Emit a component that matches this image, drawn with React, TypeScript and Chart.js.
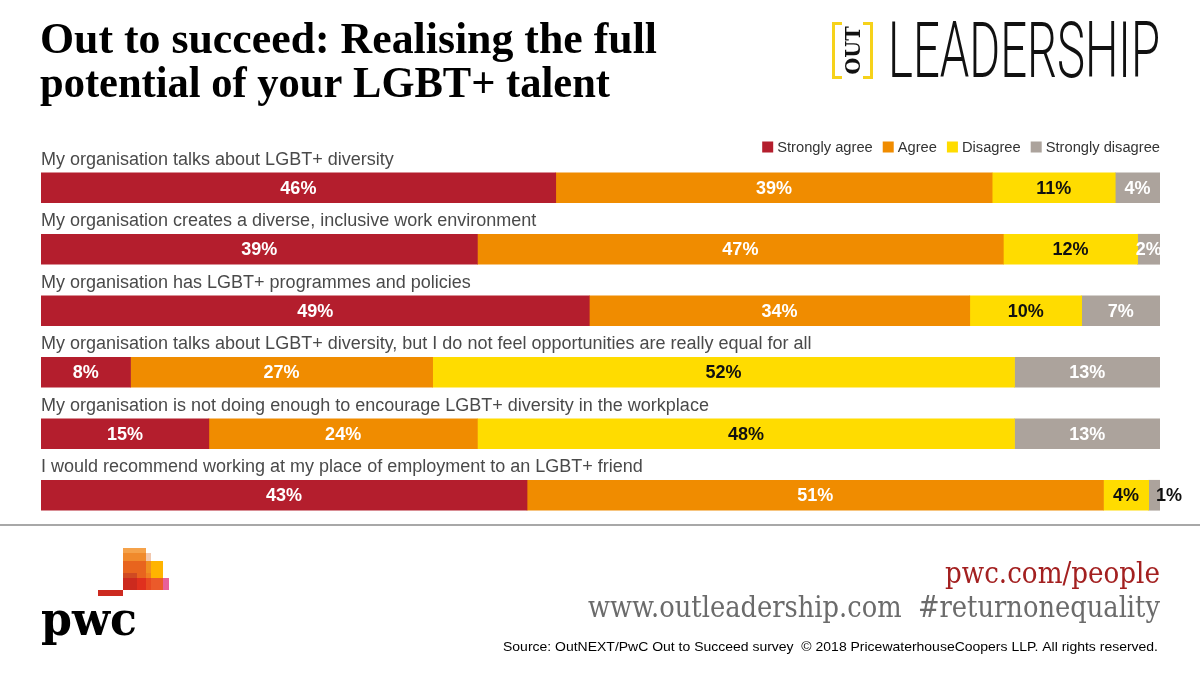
import React, { useEffect, useRef } from "react";
import { Chart, registerables } from "chart.js";

Chart.register(...registerables);

const categories = [
  "My organisation talks about LGBT+ diversity",
  "My organisation creates a diverse, inclusive work environment",
  "My organisation has LGBT+ programmes and policies",
  "My organisation talks about LGBT+ diversity, but I do not feel opportunities are really equal for all",
  "My organisation is not doing enough to encourage LGBT+ diversity in the workplace",
  "I would recommend working at my place of employment to an LGBT+ friend",
];
const seriesNames = ["Strongly agree", "Agree", "Disagree", "Strongly disagree"];
const stronglyAgree = [46, 39, 49, 8, 15, 43];
const agree = [39, 47, 34, 27, 24, 51];
const disagree = [11, 12, 10, 52, 48, 4];
const stronglyDisagree = [4, 2, 7, 13, 13, 1];
const seriesColors = ["#b41e2d", "#f08c00", "#ffdc00", "#aca39c"];
const valueLabelColors = ["#ffffff", "#ffffff", "#111111", "#ffffff"];

const titleLines = ["Out to succeed: Realising the full", "potential of your LGBT+ talent"];
const footerLink = "pwc.com/people";
const footerSites = "www.outleadership.com  #returnonequality";
const sourceText =
  "Source: OutNEXT/PwC Out to Succeed survey  \u00A9 2018 PricewaterhouseCoopers LLP. All rights reserved.";

const SANS = "'Liberation Sans', Arial, sans-serif";
const SERIF = "'DejaVu Serif', serif";
const TITLE_SERIF = "'Liberation Serif', serif";

function fitText(
  ctx: CanvasRenderingContext2D,
  text: string,
  x: number,
  y: number,
  width: number,
  font: string,
  color: string,
  align: "left" | "right" = "left"
) {
  ctx.save();
  ctx.font = font;
  ctx.fillStyle = color;
  ctx.textBaseline = "alphabetic";
  ctx.textAlign = "left";
  const w = ctx.measureText(text).width;
  const sx = width / w;
  const startX = align === "left" ? x : x - w * sx;
  ctx.translate(startX, y);
  ctx.scale(sx, 1);
  ctx.fillText(text, 0, 0);
  ctx.restore();
}

const decorPlugin = {
  id: "decor",
  beforeDraw(chart: any) {
    const ctx: CanvasRenderingContext2D = chart.ctx;
    ctx.save();
    ctx.fillStyle = "#ffffff";
    ctx.fillRect(0, 0, chart.width, chart.height);

    // Title
    fitText(ctx, titleLines[0], 40, 53, 617, `bold 44px ${TITLE_SERIF}`, "#000000");
    fitText(ctx, titleLines[1], 40, 97, 570, `bold 44px ${TITLE_SERIF}`, "#000000");

    // OUT LEADERSHIP logo
    ctx.strokeStyle = "#f6d21a";
    ctx.lineWidth = 3;
    ctx.beginPath();
    ctx.moveTo(842, 23.5);
    ctx.lineTo(833.5, 23.5);
    ctx.lineTo(833.5, 77.5);
    ctx.lineTo(842, 77.5);
    ctx.moveTo(863, 23.5);
    ctx.lineTo(871.5, 23.5);
    ctx.lineTo(871.5, 77.5);
    ctx.lineTo(863, 77.5);
    ctx.stroke();
    ctx.save();
    ctx.translate(860, 50.5);
    ctx.rotate(-Math.PI / 2);
    ctx.font = `bold 20px ${SERIF}`;
    const ow = ctx.measureText("OUT").width;
    ctx.scale(48 / ow, 1);
    ctx.fillStyle = "#111111";
    ctx.textAlign = "center";
    ctx.fillText("OUT", 0, 0);
    ctx.restore();
    fitText(ctx, "LEADERSHIP", 888, 77, 272, `300 77px Roboto, sans-serif`, "#111111");

    // Separator line
    ctx.fillStyle = "#a8a8a8";
    ctx.fillRect(0, 524, chart.width, 2);

    // pwc mark
    const rects: [number, number, number, number, string][] = [
      [123, 548, 23, 5, "#f5a24a"],
      [123, 553, 23, 8, "#f08a2c"],
      [146, 553, 5, 8, "#f2c8ae"],
      [123, 561, 23, 12, "#e8641e"],
      [146, 561, 5, 12, "#f09020"],
      [151, 561, 12, 17, "#ffb400"],
      [123, 573, 14, 5, "#d04a22"],
      [137, 573, 9, 5, "#e8641e"],
      [146, 573, 5, 5, "#f08020"],
      [123, 578, 14, 12, "#cc2a1e"],
      [137, 578, 9, 12, "#e0301e"],
      [146, 578, 5, 12, "#e84a22"],
      [151, 578, 12, 12, "#eb5a2a"],
      [163, 578, 6, 12, "#e8609a"],
      [98, 590, 25, 6, "#cc2a20"],
    ];
    rects.forEach(([x, y, w, h, c]) => {
      ctx.fillStyle = c;
      ctx.fillRect(x, y, w, h);
    });
    fitText(ctx, "pwc", 41, 635, 96, `bold 46px ${SERIF}`, "#000000");

    // Footer text
    fitText(ctx, footerLink, 1160, 583, 215, `30px ${SERIF}`, "#a32020", "right");
    fitText(ctx, footerSites, 1160, 617, 572, `30px ${SERIF}`, "#6b6b6b", "right");
    fitText(ctx, sourceText, 1158, 651, 655, `13px ${SANS}`, "#000000", "right");
    ctx.restore();
  },
  afterDatasetsDraw(chart: any) {
    const ctx: CanvasRenderingContext2D = chart.ctx;
    const yScale = chart.scales.y;
    const area = chart.chartArea;
    ctx.save();

    // Category labels above bars
    ctx.font = `18px ${SANS}`;
    ctx.fillStyle = "#4a4a4a";
    ctx.textAlign = "left";
    ctx.textBaseline = "alphabetic";
    (chart.data.labels as string[]).forEach((lab, i) => {
      const cy = yScale.getPixelForValue(i);
      ctx.fillText(lab, area.left, cy - 15 - 8);
    });

    // Value labels
    ctx.font = `bold 18px ${SANS}`;
    ctx.textBaseline = "middle";
    chart.data.datasets.forEach((ds: any, d: number) => {
      const meta = chart.getDatasetMeta(d);
      meta.data.forEach((bar: any, i: number) => {
        const { x, base, y } = bar.getProps(["x", "base", "y"], true);
        const w = x - base;
        const text = `${ds.rawValues[i]}%`;
        if (w < 15) {
          ctx.textAlign = "left";
          ctx.fillStyle = "#111111";
          ctx.fillText(text, x - 4, y + 1);
        } else {
          ctx.textAlign = "center";
          ctx.fillStyle = valueLabelColors[d];
          ctx.fillText(text, (x + base) / 2, y + 1);
        }
      });
    });

    // Legend
    ctx.font = `14.7px ${SANS}`;
    ctx.textBaseline = "middle";
    ctx.textAlign = "left";
    const box = 11;
    const gapText = 4;
    const gapItem = 10;
    const widths = seriesNames.map((n) => box + gapText + ctx.measureText(n).width);
    const total = widths.reduce((a, b) => a + b, 0) + gapItem * (seriesNames.length - 1);
    let lx = area.right - total;
    const ly = 147;
    seriesNames.forEach((n, k) => {
      ctx.fillStyle = seriesColors[k];
      ctx.fillRect(lx, ly - box / 2, box, box);
      ctx.fillStyle = "#333333";
      ctx.fillText(n, lx + box + gapText, ly + 1);
      lx += widths[k] + gapItem;
    });
    ctx.restore();
  },
};

export default function App() {
  const canvasRef = useRef<HTMLCanvasElement | null>(null);

  useEffect(() => {
    if (!canvasRef.current) return;
    const series = [stronglyAgree, agree, disagree, stronglyDisagree];
    const rowTotals = categories.map((_, i) => series.reduce((s, arr) => s + arr[i], 0));
    const chart = new Chart(canvasRef.current, {
      type: "bar",
      data: {
        labels: categories,
        datasets: series.map((vals, k) => ({
          label: seriesNames[k],
          data: vals.map((v, i) => (v / rowTotals[i]) * 100),
          rawValues: vals,
          backgroundColor: seriesColors[k],
          borderWidth: 0,
          barThickness: 30,
        })) as any,
      },
      options: {
        animation: false,
        responsive: false,
        indexAxis: "y",
        layout: { padding: { left: 41, right: 40, top: 157, bottom: 149 } },
        scales: {
          x: { stacked: true, display: false, min: 0, max: 100 },
          y: { stacked: true, display: false },
        },
        plugins: {
          legend: { display: false },
          tooltip: { enabled: false },
        },
      },
      plugins: [decorPlugin],
    });
    if ((document as any).fonts && (document as any).fonts.ready) {
      (document as any).fonts.ready.then(() => chart.draw());
    }
    return () => chart.destroy();
  }, []);

  return (
    <div
      style={{
        position: "absolute",
        left: 0,
        top: 0,
        width: 1200,
        height: 675,
        background: "#ffffff",
      }}
    >
      <canvas ref={canvasRef} width={1200} height={675} style={{ display: "block" }} />
    </div>
  );
}
